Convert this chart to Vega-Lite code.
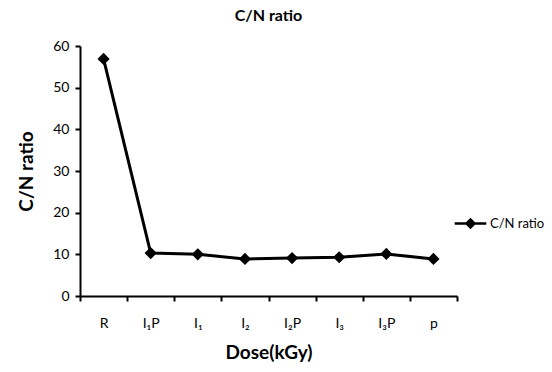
{
  "$schema": "https://vega.github.io/schema/vega-lite/v6.json",
  "autosize": {"type": "none"},
  "width": 377,
  "height": 250,
  "padding": {"left": 80, "top": 46, "right": 95, "bottom": 76},
  "background": "white",
  "config": {
    "font": "Lato",
    "view": {"stroke": null}
  },
  "title": {
    "text": "C/N ratio",
    "fontSize": 16,
    "fontWeight": "bold",
    "font": "Lato",
    "color": "black",
    "offset": 15,
    "anchor": "middle"
  },
  "data": {
    "values": [
      {"dose": "R", "value": 56.9, "series": "C/N ratio"},
      {"dose": "I₁P", "value": 10.3, "series": "C/N ratio"},
      {"dose": "I₁", "value": 10.0, "series": "C/N ratio"},
      {"dose": "I₂", "value": 8.9, "series": "C/N ratio"},
      {"dose": "I₂P", "value": 9.1, "series": "C/N ratio"},
      {"dose": "I₃", "value": 9.3, "series": "C/N ratio"},
      {"dose": "I₃P", "value": 10.1, "series": "C/N ratio"},
      {"dose": "p", "value": 8.9, "series": "C/N ratio"}
    ]
  },
  "mark": {
    "type": "line",
    "strokeWidth": 3,
    "point": {"shape": "diamond", "size": 150, "filled": true, "color": "black"}
  },
  "encoding": {
    "x": {
      "field": "dose",
      "type": "ordinal",
      "sort": null,
      "bandPosition": 0.5,
      "scale": {"type": "band", "paddingInner": 0, "paddingOuter": 0},
      "axis": {
        "title": "Dose(kGy)",
        "titleFontSize": 19,
        "titleFontWeight": "bold",
        "titleColor": "black",
        "titlePadding": 13,
        "labelAngle": 0,
        "labelFontSize": 14,
        "labelColor": "black",
        "labelPadding": 15,
        "tickBand": "extent",
        "tickColor": "black",
        "tickWidth": 2,
        "tickSize": 5,
        "domainColor": "black",
        "domainWidth": 2,
        "grid": false
      }
    },
    "y": {
      "field": "value",
      "type": "quantitative",
      "scale": {"domain": [0, 60], "nice": false},
      "axis": {
        "title": "C/N ratio",
        "titleFontSize": 19,
        "titleFontWeight": "bold",
        "titleColor": "black",
        "titlePadding": 16,
        "values": [0, 10, 20, 30, 40, 50, 60],
        "labelFontSize": 14,
        "labelColor": "black",
        "labelPadding": 6,
        "tickColor": "black",
        "tickWidth": 2,
        "tickSize": 5,
        "domainColor": "black",
        "domainWidth": 2,
        "grid": false
      }
    },
    "color": {
      "field": "series",
      "type": "nominal",
      "scale": {"range": ["black"]},
      "legend": {
        "title": null,
        "orient": "none",
        "legendX": 373,
        "legendY": 160,
        "symbolType": "M-1,0H1M-0.25,0L0,-0.25L0.25,0L0,0.25Z",
        "symbolSize": 1000,
        "symbolStrokeWidth": 2.5,
        "symbolFillColor": "black",
        "symbolStrokeColor": "black",
        "labelFontSize": 13,
        "labelColor": "black",
        "labelOffset": 2
      }
    }
  }
}
